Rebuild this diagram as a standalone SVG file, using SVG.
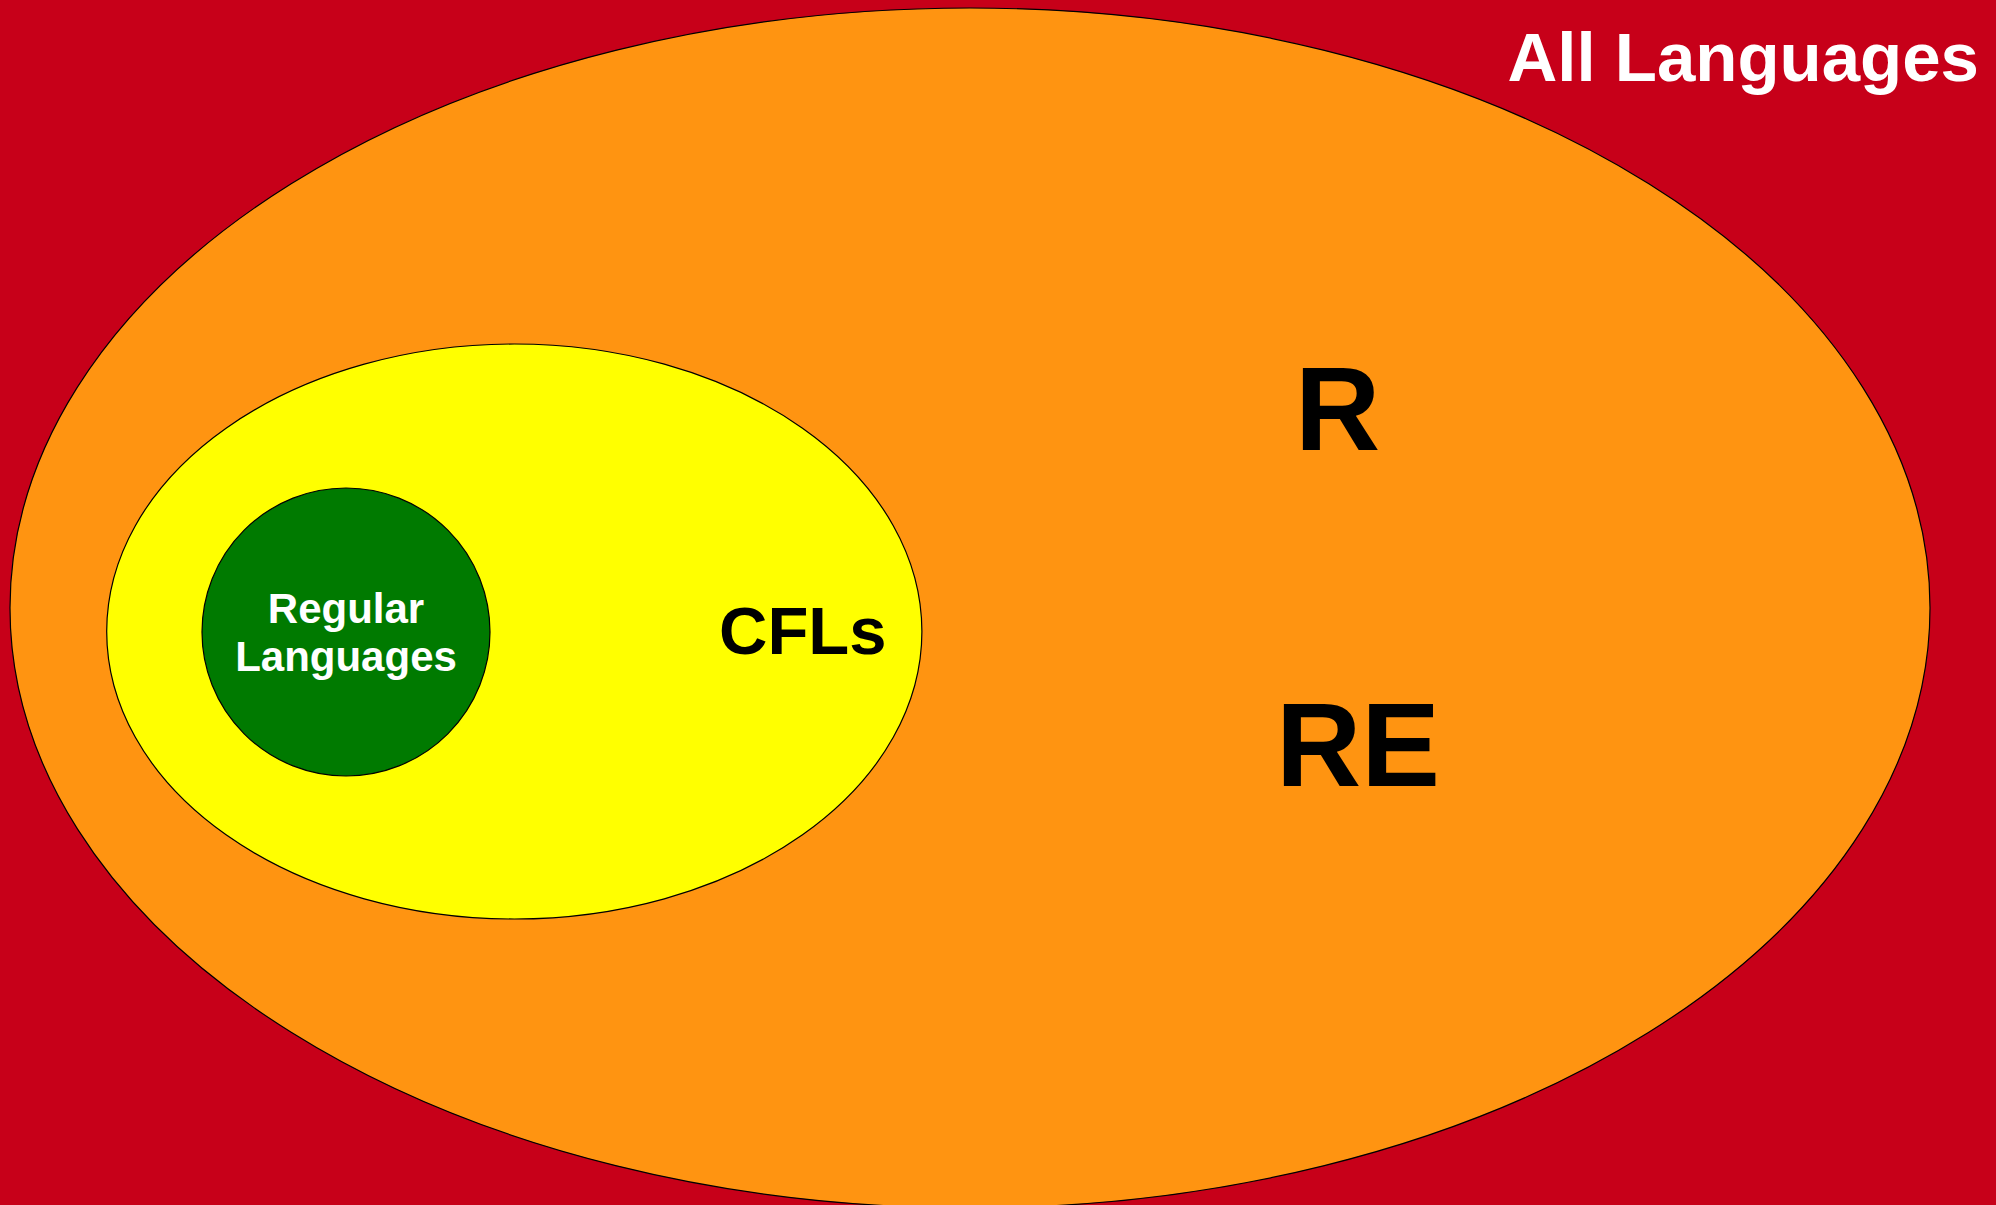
<svg xmlns="http://www.w3.org/2000/svg" width="1996" height="1205" viewBox="0 0 1996 1205">
<style>
.shape{stroke:#000;stroke-width:1.2}
.t{font-family:"Liberation Sans",Arial,sans-serif;font-weight:bold}
.w{fill:#fff}
.k{fill:#000}
</style>
<rect x="0" y="0" width="1996" height="1205" fill="#C70019"/>
<g id="all-languages">
<text class="t w" x="1979" y="81" font-size="69" text-anchor="end">All Languages</text>
</g>
<g id="re-r">
<ellipse class="shape" cx="970" cy="608" rx="960" ry="600" fill="#FF9411"/>
<text class="t k" x="1295" y="450" font-size="118">R</text>
<text class="t k" x="1276" y="786" font-size="118">RE</text>
</g>
<g id="cfls">
<ellipse class="shape" cx="514.3" cy="631.5" rx="407.6" ry="287.5" fill="#FFFF00"/>
<text class="t k" x="719" y="654" font-size="67">CFLs</text>
</g>
<g id="regular">
<circle class="shape" cx="346" cy="632" r="144" fill="#007A00"/>
<text class="t w" x="346" y="623" font-size="42" text-anchor="middle">Regular</text>
<text class="t w" x="346" y="671" font-size="42" text-anchor="middle">Languages</text>
</g>
<g id="connectors"/>
</svg>
